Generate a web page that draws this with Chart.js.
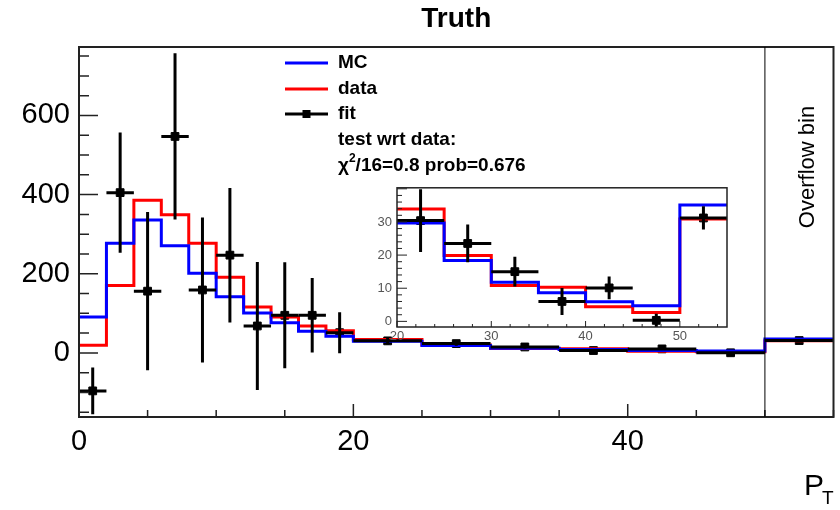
<!DOCTYPE html>
<html>
<head>
<meta charset="utf-8">
<script src="https://cdn.jsdelivr.net/npm/chart.js@4.4.1/dist/chart.umd.min.js"></script>
<style>
  html, body { margin: 0; padding: 0; background: #fff; }
  #wrap { position: relative; width: 840px; height: 510px; }
  #main { position: absolute; left: 0; top: 0; }
  #inset { position: absolute; left: 360px; top: 175px; }
</style>
</head>
<body>
<div id="wrap">
  <canvas id="main" width="840" height="510"></canvas>
  <canvas id="inset" width="380" height="170"></canvas>
</div>
<script>
// bins: width 2 up to 20, width 5 up to 50, then the overflow bin 50-55
const binEdges = [0, 2, 4, 6, 8, 10, 12, 14, 16, 18, 20, 25, 30, 35, 40, 45, 50, 55];
const mcCounts = [91, 277, 336, 271, 201, 142, 101, 76, 55, 42, 29.7, 18.4, 11.8, 8.6, 5.9, 4.7, 35.1];
const dataCounts = [19, 170, 386, 349, 277, 191, 116, 91, 68, 56, 33.9, 19.9, 10.8, 10.3, 4.4, 2.7, 30.9];
const fitValues = [-96, 405, 156, 547, 159, 247, 68, 95, 95, 51, 30.4, 23.5, 15.0, 6.0, 10.1, 0.3, 31.2];
const fitErrors = [59, 152, 200, 210, 183, 170, 162, 134, 94, 52, 9.5, 5.7, 4.5, 4.1, 3.4, 2.0, 3.5];

const xTickLabels = [0, 20, 40];
const yTickLabels = [0, 200, 400, 600];
const insetXTickLabels = [20, 30, 40, 50];
const insetYTickLabels = [0, 10, 20, 30];
const insetFirstBin = 10; // inset shows bins from x=20 on

const FONT = "'Liberation Sans', Arial, Helvetica, sans-serif";

// histogram outline as step points (left edge of every bin + closing right edge)
function stepPoints(edges, counts) {
  return edges.map((e, i) => ({ x: e, y: counts[Math.min(i, counts.length - 1)] }));
}

function fitPoints(edges, values) {
  return values.map((v, i) => ({ x: (edges[i] + edges[i + 1]) / 2, y: v }));
}

function histDataset(label, edges, counts, color, width) {
  return {
    label: label,
    data: stepPoints(edges, counts),
    stepped: 'before', // horizontal first, then the vertical jump at the next edge
    borderColor: color,
    borderWidth: width,
    borderJoinStyle: 'miter',
    pointRadius: 0,
    fill: false
  };
}

function fitDataset(edges, values, errors, radius) {
  return {
    label: 'fit',
    data: fitPoints(edges, values),
    errors: errors,
    edges: edges,
    showLine: false,
    pointStyle: 'rect',
    pointRadius: radius,
    pointBackgroundColor: '#000',
    pointBorderColor: '#000',
    pointBorderWidth: 1
  };
}

// error bars for the fit points
const errorBars = {
  id: 'errorBars',
  afterDatasetsDraw(chart, args, opts) {
    const { ctx, chartArea: a, scales: { x, y } } = chart;
    ctx.save();
    ctx.beginPath();
    ctx.rect(a.left, a.top, a.right - a.left, a.bottom - a.top);
    ctx.clip();
    ctx.strokeStyle = '#000';
    ctx.lineWidth = opts.width;
    chart.data.datasets.forEach(ds => {
      if (!ds.errors) return;
      ds.data.forEach((p, i) => {
        const px = x.getPixelForValue(p.x);
        const py = y.getPixelForValue(p.y);
        ctx.beginPath();
        ctx.moveTo(px, y.getPixelForValue(p.y - ds.errors[i]));
        ctx.lineTo(px, y.getPixelForValue(p.y + ds.errors[i]));
        ctx.moveTo(x.getPixelForValue(ds.edges[i]), py);
        ctx.lineTo(x.getPixelForValue(ds.edges[i + 1]), py);
        ctx.stroke();
      });
    });
    ctx.restore();
  }
};

// ROOT style frame with inward ticks on the bottom and left axes
const frameTicks = {
  id: 'frameTicks',
  afterDraw(chart, args, o) {
    const { ctx, chartArea: a, scales: { x, y } } = chart;
    ctx.save();
    ctx.strokeStyle = '#222';
    ctx.lineWidth = o.tickWidth;
    ctx.beginPath();
    for (let v = Math.ceil(x.min / o.xMinor) * o.xMinor; v <= x.max + 1e-9; v += o.xMinor) {
      const px = x.getPixelForValue(v);
      const major = Math.abs(v / o.xMajor - Math.round(v / o.xMajor)) < 1e-6;
      ctx.moveTo(px, a.bottom);
      ctx.lineTo(px, a.bottom - (major ? o.xMajorLen : o.xMinorLen));
    }
    for (let v = Math.ceil(y.min / o.yMinor) * o.yMinor; v <= y.max + 1e-9; v += o.yMinor) {
      const py = y.getPixelForValue(v);
      const major = Math.abs(v / o.yMajor - Math.round(v / o.yMajor)) < 1e-6;
      ctx.moveTo(a.left, py);
      ctx.lineTo(a.left + (major ? o.yMajorLen : o.yMinorLen), py);
    }
    ctx.stroke();
    ctx.lineWidth = o.frameWidth;
    ctx.strokeRect(a.left, a.top, a.right - a.left, a.bottom - a.top);
    ctx.restore();
  }
};

// title, legend, overflow marker and axis title of the main pad
const decorations = {
  id: 'decorations',
  afterDraw(chart) {
    const { ctx, chartArea: a, scales: { x, y } } = chart;
    ctx.save();
    ctx.fillStyle = '#000';
    ctx.textBaseline = 'middle';

    ctx.font = `bold 28px ${FONT}`;
    ctx.textAlign = 'center';
    ctx.fillText('Truth', (a.left + a.right) / 2, 19);

    // overflow bin separator
    const xo = x.getPixelForValue(binEdges[binEdges.length - 2]);
    ctx.strokeStyle = '#000';
    ctx.lineWidth = 1;
    ctx.beginPath();
    ctx.moveTo(xo, a.top);
    ctx.lineTo(xo, a.bottom);
    ctx.stroke();

    ctx.save();
    ctx.translate((xo + a.right) / 2 + 9, 167);
    ctx.rotate(-Math.PI / 2);
    ctx.font = `22px ${FONT}`;
    ctx.fillText('Overflow bin', 0, 0);
    ctx.restore();

    // legend
    const lx0 = 285, lx1 = 328, tx = 338;
    const rows = [
      { label: 'MC', color: '#0000ff', y: 63 },
      { label: 'data', color: '#ff0000', y: 89 },
      { label: 'fit', color: '#000', y: 114, marker: true }
    ];
    ctx.textAlign = 'left';
    ctx.font = `bold 19px ${FONT}`;
    rows.forEach(r => {
      ctx.strokeStyle = r.color;
      ctx.lineWidth = 3;
      ctx.beginPath();
      ctx.moveTo(lx0, r.y);
      ctx.lineTo(lx1, r.y);
      ctx.stroke();
      if (r.marker) {
        ctx.fillStyle = '#000';
        ctx.fillRect((lx0 + lx1) / 2 - 4, r.y - 4, 8, 8);
      }
      ctx.fillStyle = '#000';
      ctx.fillText(r.label, tx, r.y);
    });
    ctx.fillText('test wrt data:', tx, 140);
    let cx = tx;
    ctx.fillText('\u03c7', cx, 166);
    cx += ctx.measureText('\u03c7').width;
    ctx.font = `bold 12px ${FONT}`;
    ctx.fillText('2', cx, 159);
    cx += ctx.measureText('2').width;
    ctx.font = `bold 19px ${FONT}`;
    ctx.fillText('/16=0.8 prob=0.676', cx, 166);

    // axis title P_T
    ctx.font = `30px ${FONT}`;
    ctx.fillText('P', 804, 487);
    ctx.font = `19px ${FONT}`;
    ctx.fillText('T', 822, 499);
    ctx.restore();
  }
};

const mainChart = new Chart(document.getElementById('main'), {
  type: 'line',
  data: {
    datasets: [
      histDataset('MC', binEdges, mcCounts, '#0000ff', 3),
      histDataset('data', binEdges, dataCounts, '#ff0000', 3),
      fitDataset(binEdges, fitValues, fitErrors, 5.5)
    ]
  },
  options: {
    responsive: false,
    animation: false,
    layout: { padding: { top: 47, right: 4, left: 0, bottom: 0 } },
    plugins: {
      legend: { display: false },
      tooltip: { enabled: false },
      title: { display: false },
      errorBars: { width: 3 },
      frameTicks: {
        xMinor: 5, xMajor: 20, xMajorLen: 13, xMinorLen: 7,
        yMinor: 50, yMajor: 200, yMajorLen: 19, yMinorLen: 10,
        tickWidth: 1.5, frameWidth: 2
      }
    },
    scales: {
      x: {
        type: 'linear',
        min: 0,
        max: 55,
        grid: { display: false, drawTicks: false },
        border: { display: false },
        afterBuildTicks: s => { s.ticks = xTickLabels.map(v => ({ value: v })); },
        afterFit: s => { s.height = 93; },
        ticks: { font: { family: FONT, size: 29 }, color: '#000', padding: 8, maxRotation: 0 }
      },
      y: {
        min: -162,
        max: 773,
        grid: { display: false, drawTicks: false },
        border: { display: false },
        afterBuildTicks: s => { s.ticks = yTickLabels.map(v => ({ value: v })); },
        afterFit: s => { s.width = 79; },
        ticks: { font: { family: FONT, size: 29 }, color: '#000', padding: 9 }
      }
    }
  },
  plugins: [errorBars, frameTicks, decorations]
});

const insetEdges = binEdges.slice(insetFirstBin);

const insetChart = new Chart(document.getElementById('inset'), {
  type: 'line',
  data: {
    datasets: [
      histDataset('MC', insetEdges, mcCounts.slice(insetFirstBin), '#0000ff', 3),
      histDataset('data', insetEdges, dataCounts.slice(insetFirstBin), '#ff0000', 3),
      fitDataset(insetEdges, fitValues.slice(insetFirstBin), fitErrors.slice(insetFirstBin), 5.5)
    ]
  },
  options: {
    responsive: false,
    animation: false,
    layout: { padding: { top: 9, right: 13, left: 0, bottom: 0 } },
    plugins: {
      legend: { display: false },
      tooltip: { enabled: false },
      title: { display: false },
      errorBars: { width: 3 },
      frameTicks: {
        xMinor: 2, xMajor: 10, xMajorLen: 6, xMinorLen: 3,
        yMinor: 2, yMajor: 10, yMajorLen: 10, yMinorLen: 5,
        tickWidth: 1, frameWidth: 1.5
      }
    },
    scales: {
      x: {
        type: 'linear',
        min: 20,
        max: 55,
        grid: { display: false, drawTicks: false },
        border: { display: false },
        afterBuildTicks: s => { s.ticks = insetXTickLabels.map(v => ({ value: v })); },
        afterFit: s => { s.height = 18; },
        ticks: { font: { family: FONT, size: 13 }, color: '#555', padding: 2, maxRotation: 0 }
      },
      y: {
        min: -1.7,
        max: 40.3,
        grid: { display: false, drawTicks: false },
        border: { display: false },
        afterBuildTicks: s => { s.ticks = insetYTickLabels.map(v => ({ value: v })); },
        afterFit: s => { s.width = 37; },
        ticks: { font: { family: FONT, size: 13 }, color: '#555', padding: 5 }
      }
    }
  },
  plugins: [errorBars, frameTicks]
});
</script>
</body>
</html>
